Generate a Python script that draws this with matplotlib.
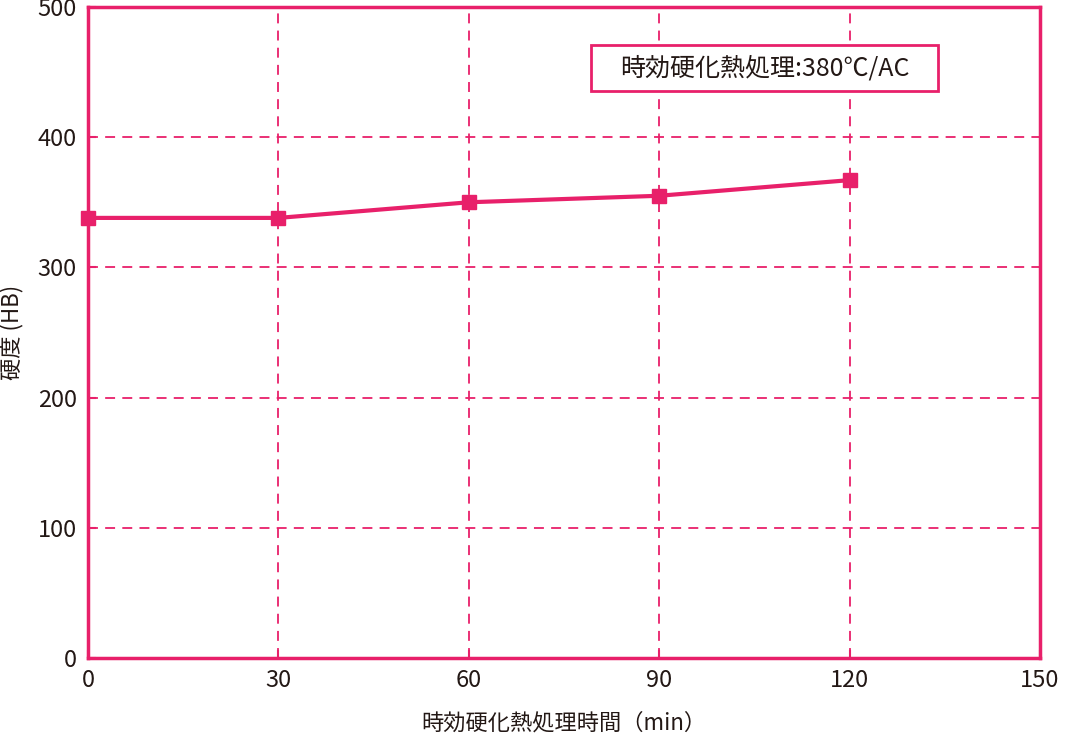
import matplotlib
matplotlib.use("Agg")
from matplotlib import pyplot as plt
from matplotlib.patches import Rectangle

plt.rcParams['font.family'] = ['Noto Sans CJK JP', 'DejaVu Sans']

# Data
minutes = [0, 30, 60, 90, 120]
hardness = [338, 338, 350, 355, 367]
x_ticks = [0, 30, 60, 90, 120, 150]
y_ticks = [0, 100, 200, 300, 400, 500]

PINK = "#e8206a"
TEXT = "#231815"

fig = plt.figure(figsize=(10.78, 7.41), dpi=100)
ax = fig.add_axes([0.0816, 0.112, 0.8831, 0.8786])

ax.plot(minutes, hardness, color=PINK, lw=3, marker="s", ms=10,
        clip_on=False, zorder=5)

ax.set_xlim(0, 150)
ax.set_ylim(0, 500)
ax.set_xticks(x_ticks)
ax.set_yticks(y_ticks)
ax.grid(True, color=PINK, ls=(0, (5.5, 4)), lw=1.3)

for s in ax.spines.values():
    s.set_color(PINK)
    s.set_linewidth(2.5)

ax.tick_params(direction="in", length=6, width=1.5, color=PINK,
               labelsize=17, labelcolor=TEXT, pad=8)

ax.set_xlabel("時効硬化熱処理時間（min）", fontsize=16, color=TEXT, labelpad=14)
ax.set_ylabel("硬度 (HB)", fontsize=16, color=TEXT, labelpad=10)

# annotation box
box = Rectangle((0.528, 0.871), 0.365, 0.0706, transform=ax.transAxes,
                fc="white", ec=PINK, lw=2, zorder=6)
ax.add_patch(box)
ax.text(0.711, 0.906, "時効硬化熱処理:380℃/AC", transform=ax.transAxes,
        fontsize=18, color=TEXT, ha="center", va="center", zorder=7)

fig.savefig("out.png", dpi=100)
